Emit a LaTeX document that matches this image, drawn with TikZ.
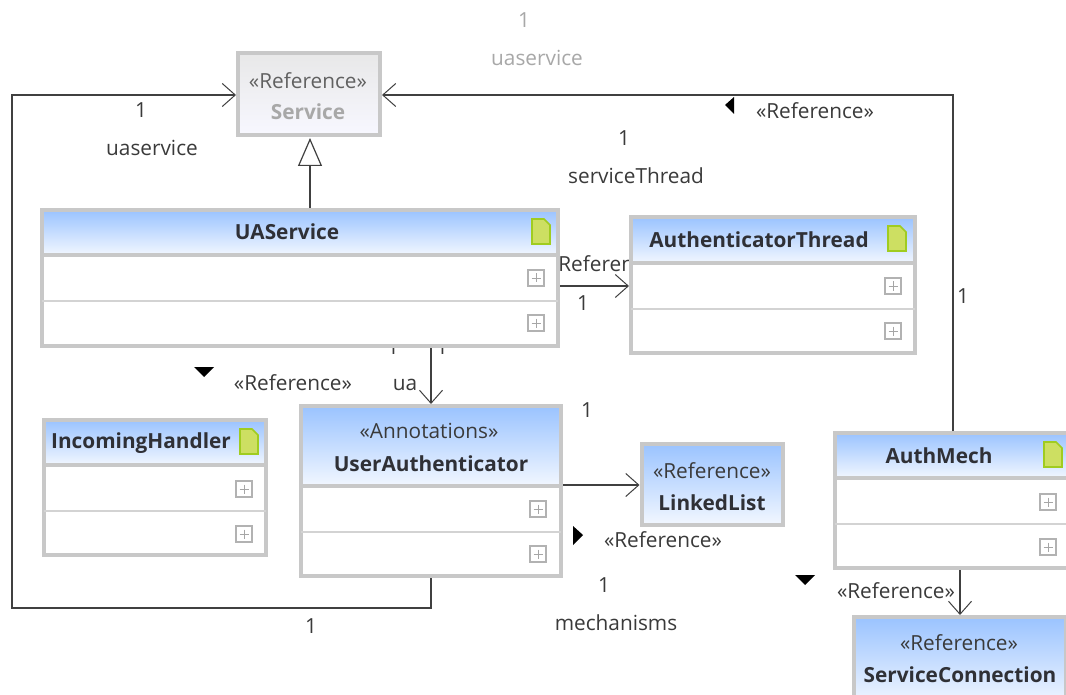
\documentclass[tikz,border=0pt]{standalone}
\usepackage{fontspec}
\setmainfont{Open Sans}
\usetikzlibrary{arrows.meta,calc}
\definecolor{edge}{HTML}{C8C8C8}
\definecolor{ink}{HTML}{3A3A3A}
\definecolor{title}{HTML}{2F3036}
\definecolor{faded}{HTML}{A8A8A8}
\definecolor{docline}{HTML}{A0CC20}
\definecolor{docfill}{HTML}{CDDF62}
\tikzset{
  lbl/.style={font=\fontsize{20.8}{24}\selectfont,text=ink,inner sep=0pt},
  stereo/.style={font=\fontsize{20.8}{24}\selectfont,text=ink,inner sep=0pt},
  ttl/.style={font=\fontsize{20.8}{24}\selectfont\bfseries,text=title,inner sep=0pt},
  conn/.style={draw=black!75,line width=1.4pt},
  assoc/.style={conn,-{Straight Barb[length=13pt,width=23pt,line width=1pt]}},
  inherit/.style={conn,-{Triangle[open,fill=white,length=28pt,width=24pt,line width=1.2pt]}},
  marker/.style={fill=black,draw=none},
  docicon/.pic={
    \draw[draw=docline,fill=docfill,line width=1.6pt]
      (-9,-13) -- (3,-13) -- (9,-7) -- (9,12) -- (-9,12) -- cycle;
  },
  plusicon/.pic={
    \draw[draw=black!30,fill=white,line width=1.5pt] (-8,-8) rectangle (8,8);
    \draw[draw=black!35,line width=.9pt] (-4.5,0) -- (4.5,0) (0,-4.5) -- (0,4.5);
  }
}
\newcommand{\umlbox}[9]{%
  % name x1 y1 x2 y2 headerbottom divider top-colour bottom-colour
  \pgfmathsetmacro{\cx}{(#2+#4)/2}\pgfmathsetmacro{\cy}{(#3+#5)/2}%
  \pgfmathsetmacro{\bw}{#4-#2}\pgfmathsetmacro{\bh}{#5-#3}%
  \node[draw=edge,line width=4pt,fill=white,inner sep=0pt,minimum width=\bw pt,minimum height=\bh pt] (#1) at (\cx,\cy) {};
  \shade[top color=#8,bottom color=#9] (#2,#3) rectangle (#4,#6);
  \draw[edge,line width=4pt] (#2,#3) rectangle (#4,#5);
  \draw[edge,line width=4pt] (#2,#6) -- (#4,#6);
  \draw[edge!80!white,line width=2pt] (#2,#7) -- (#4,#7);
}
\begin{document}
\begin{tikzpicture}[x=1pt,y=-1pt]
\useasboundingbox (0,0) rectangle (1066,695);
\clip (0,0) rectangle (1066,695);
\fill[white] (0,0) rectangle (1066,695);
\definecolor{bluetop}{HTML}{9AC3FF}
\definecolor{bluebot}{HTML}{F2F7FF}

% labels that lie partly behind the boxes
\node[lbl] (refA) at (607,264) {«Reference»};
\node[lbl] (oneA) at (393,347) {1};
\node[lbl] (oneB) at (442,347) {1};

% boxes
\node[draw=edge,line width=4pt,inner sep=0pt,minimum width=142pt,minimum height=82pt,top color=gray!18,bottom color=blue!3] (service) at (309,94) {};
\umlbox{uaservice}{42}{210}{558}{346}{255}{301}{bluetop}{bluebot}
\umlbox{thread}{631}{217}{915}{353}{263}{309}{bluetop}{bluebot}
\umlbox{incoming}{44}{420}{266}{555}{465}{511}{bluetop}{bluebot}
\umlbox{userauth}{301}{406}{561}{576}{486}{532}{bluetop}{bluebot}
\node[draw=edge,line width=4pt,inner sep=0pt,minimum width=141pt,minimum height=81pt,top color=bluetop,bottom color=bluebot] (linked) at (712,484) {};
\umlbox{authmech}{835}{433}{1084}{568}{478}{524}{bluetop}{bluebot}
\node[draw=edge,line width=4pt,inner sep=0pt,minimum width=212pt,minimum height=88pt,top color=bluetop,bottom color=bluebot] (conn) at (960,661) {};

% box titles
\node[stereo,text=black!62] (serviceS) at (308,81) {«Reference»};
\node[ttl,text=faded] (serviceT) at (308,112) {Service};
\node[ttl] (uaT) at (287,232) {UAService};
\node[ttl] (threadT) at (759,240) {AuthenticatorThread};
\node[ttl] (incT) at (141,443) {IncomingHandler};
\node[stereo] (userS) at (429,431) {«Annotations»};
\node[ttl] (userT) at (431,464) {UserAuthenticator};
\node[stereo] (linkS) at (712,471) {«Reference»};
\node[ttl] (linkT) at (712,503) {LinkedList};
\node[ttl] (authT) at (939,456) {AuthMech};
\node[stereo] (connS) at (959,643) {«Reference»};
\node[ttl] (connT) at (960,675) {ServiceConnection};

% icons
\pic at (541,232) {docicon};
\pic at (897,239) {docicon};
\pic at (249,442) {docicon};
\pic at (1053,455) {docicon};
\foreach \px/\py in {536/278,536/323,893/286,893/331,244/489,244/534,538/509,538/554,1048/502,1048/547}
  \pic at (\px,\py) {plusicon};

% connectors
\coordinate (bend1) at (12,608);
\coordinate (bend2) at (12,95);
\coordinate (mechTop) at (953,431);
\coordinate (bend3) at (953,95);
\coordinate (threadIn) at (thread.west |- 0,286);
\coordinate (uaOut) at (uaservice.east |- 0,286);
\coordinate (userOut) at (userauth.east |- 0,485);
\coordinate (linkIn) at (linked.west |- 0,485);
\coordinate (uaGenTop) at (310,208);
\coordinate (svcBot) at (310,138);
\coordinate (svcL) at (service.west |- 0,95);
\coordinate (svcR) at (service.east |- 0,95);

\draw[inherit] (uaGenTop) -- (svcBot);
\draw[assoc] (userauth.south) -- (userauth.south |- bend1) -- (bend1) -- (bend2) -- (svcL);
\draw[assoc] (mechTop) -- (bend3) -- (svcR);
\draw[assoc] (uaOut) -- (threadIn);
\draw[assoc] (uaservice.south -| userauth.north) -- (userauth.north);
\draw[assoc] (userOut) -- (linkIn);
\draw[assoc] (authmech.south -| conn.north) -- (conn.north);

% free labels
\node[lbl,text=faded] (l1) at (524,20) {1};
\node[lbl,text=faded] (l2) at (537,58) {uaservice};
\node[lbl] (l3) at (141,110) {1};
\node[lbl] (l4) at (152,148) {uaservice};
\node[lbl] (l5) at (624,138) {1};
\node[lbl] (l6) at (636,176) {serviceThread};
\node[lbl] (l7) at (815,111) {«Reference»};
\node[lbl] (l8) at (583,303) {1};
\node[lbl] (l9) at (963,296) {1};
\node[lbl] (l10) at (293,383) {«Reference»};
\node[lbl] (l11) at (405,385) {ua};
\node[lbl] (l12) at (587,410) {1};
\node[lbl] (l13) at (663,540) {«Reference»};
\node[lbl] (l14) at (604,585) {1};
\node[lbl] (l15) at (616,623) {mechanisms};
\node[lbl] (l16) at (311,626) {1};
\node[lbl] (l17) at (896,591) {«Reference»};

% direction markers
\fill[marker] (734,97) -- (734,114) -- (725,105) -- cycle;
\fill[marker] (194,367) -- (214,367) -- (204,377) -- cycle;
\fill[marker] (573,526) -- (573,545) -- (583,535) -- cycle;
\fill[marker] (795,575) -- (815,575) -- (805,585) -- cycle;
\end{tikzpicture}
\end{document}
